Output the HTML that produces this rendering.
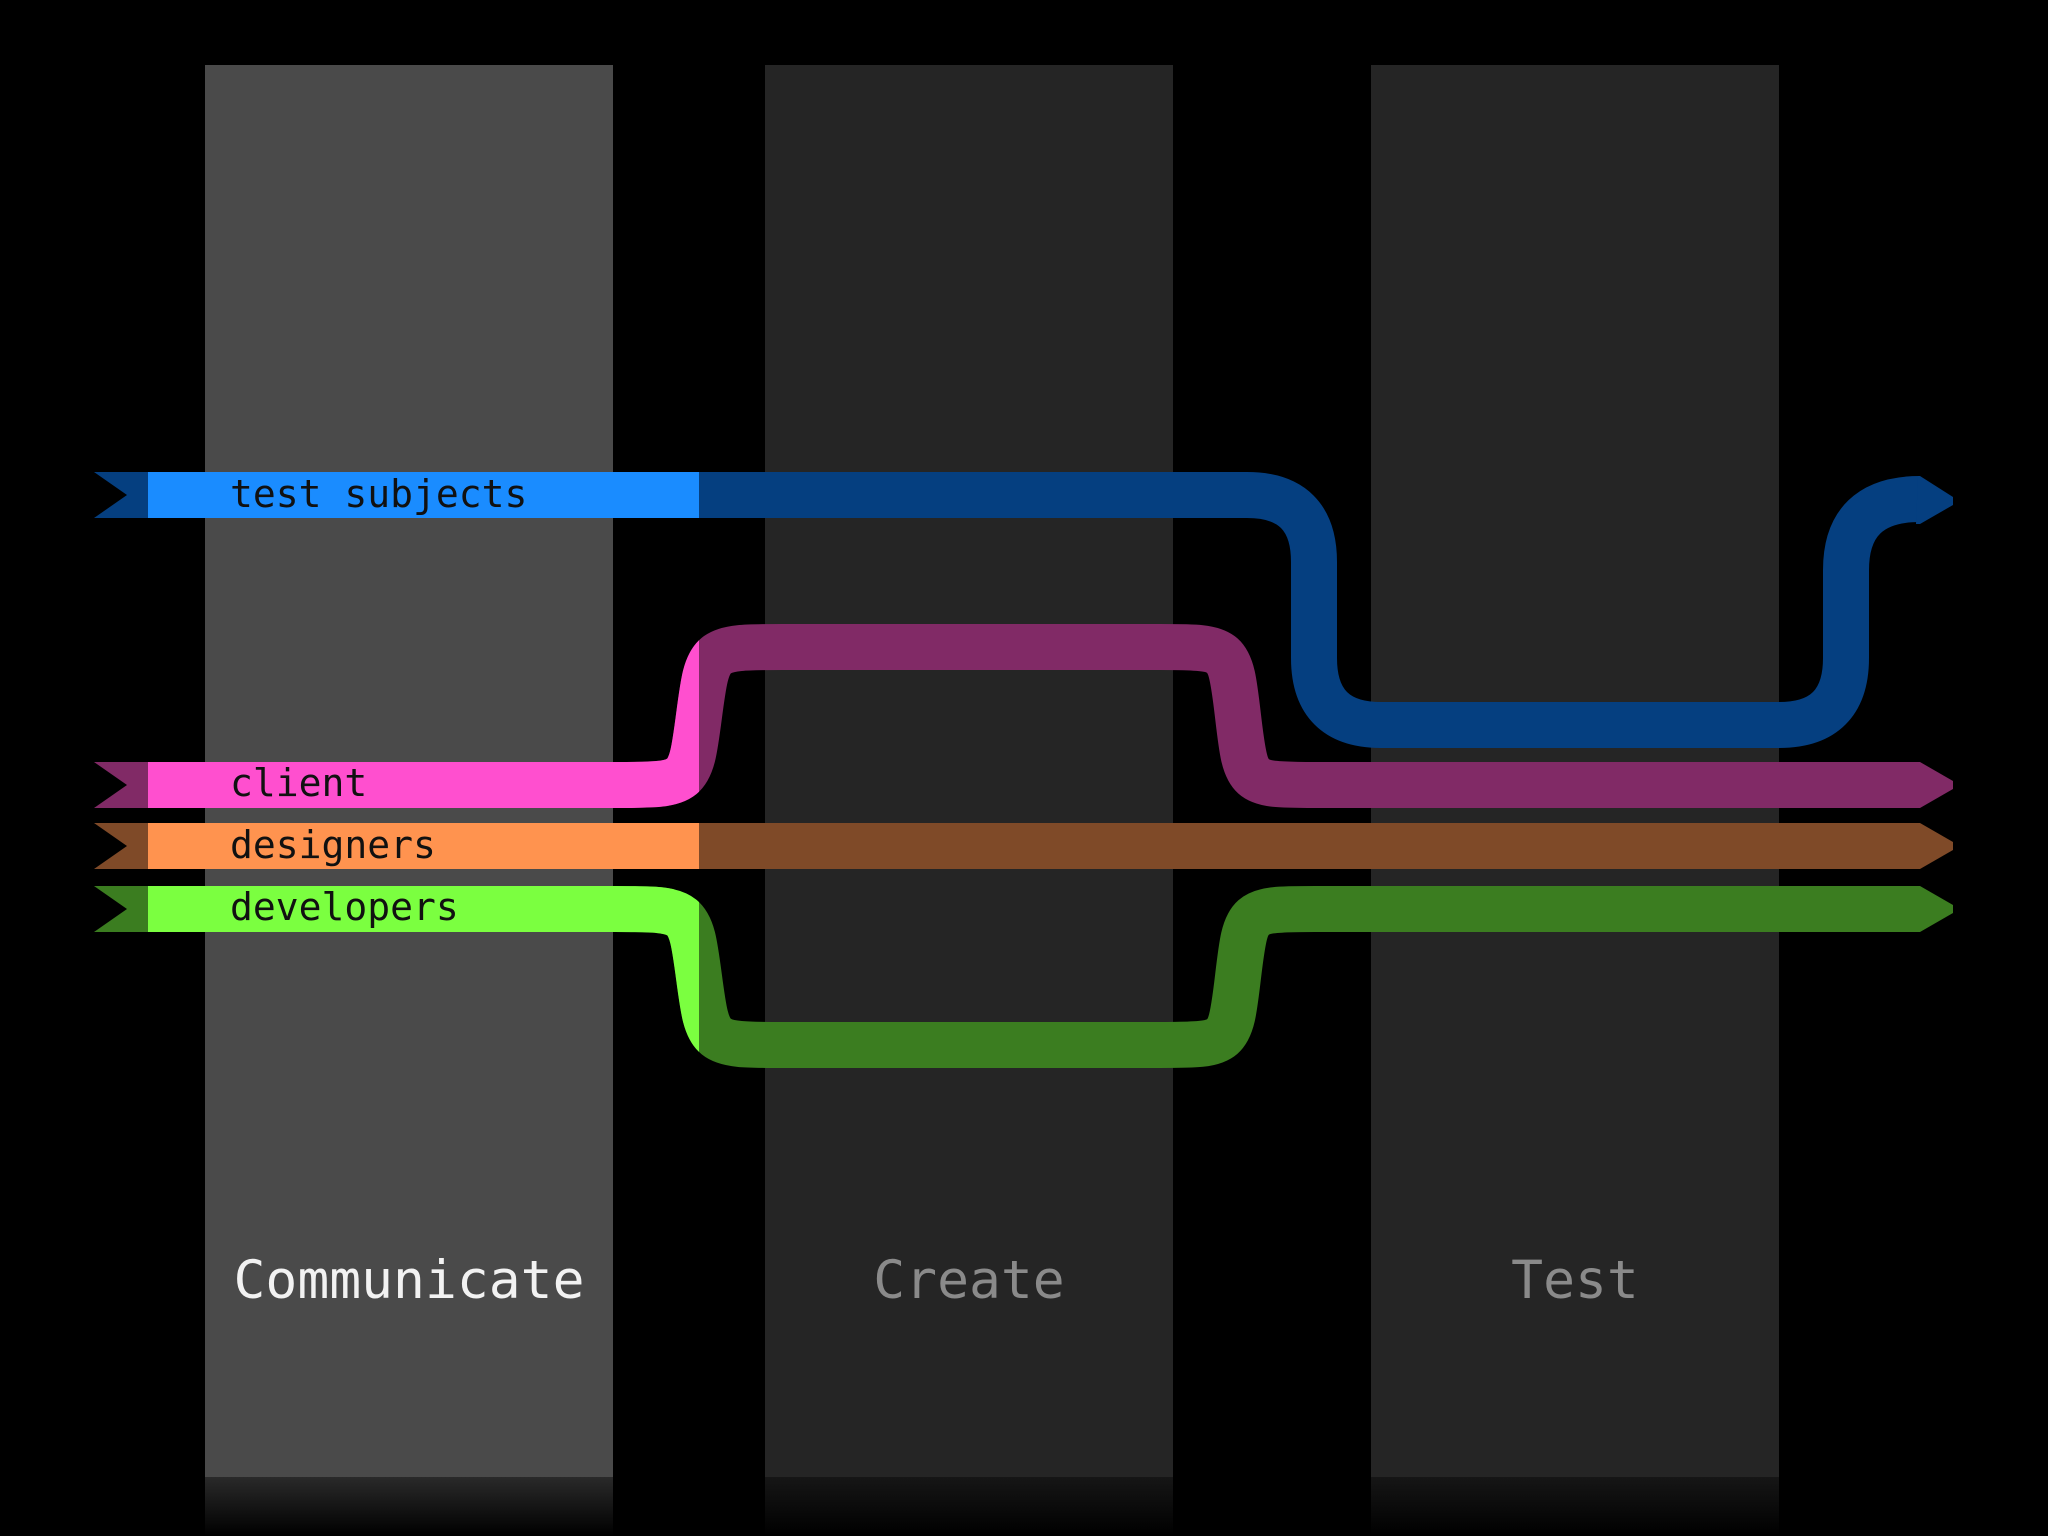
<!DOCTYPE html>
<html><head><meta charset="utf-8"><style>
html,body{margin:0;padding:0;background:#000;}
svg{display:block}
text{font-family:"DejaVu Sans Mono","Liberation Mono",monospace;}
</style></head><body>
<svg width="2048" height="1536" viewBox="0 0 2048 1536" xmlns="http://www.w3.org/2000/svg">
<defs>
<linearGradient id="r1" x1="0" y1="0" x2="0" y2="1"><stop offset="0" stop-color="#2a2a2a"/><stop offset="1" stop-color="#000"/></linearGradient>
<linearGradient id="r2" x1="0" y1="0" x2="0" y2="1"><stop offset="0" stop-color="#161616"/><stop offset="1" stop-color="#000"/></linearGradient>
<clipPath id="left"><rect x="0" y="0" width="699" height="1536"/></clipPath>
</defs>
<rect width="2048" height="1536" fill="#000"/>
<rect x="205" y="65" width="408" height="1412" fill="#4a4a4a"/>
<rect x="765" y="65" width="408" height="1412" fill="#252525"/>
<rect x="1371" y="65" width="408" height="1412" fill="#252525"/>
<rect x="205" y="1477" width="408" height="59" fill="url(#r1)"/>
<rect x="765" y="1477" width="408" height="59" fill="url(#r2)"/>
<rect x="1371" y="1477" width="408" height="59" fill="url(#r2)"/>

<g fill="none" stroke-width="46" stroke-linejoin="round">
<!-- blue -->
<path d="M148,495 H1247 Q1314,495 1314,562 V658 Q1314,725 1381,725 H1779 Q1846,725 1846,658 V570 Q1846,499 1920,499" stroke="#053f80"/>
<!-- client -->
<path d="M148,785 H615 C690,785 690,785 699,716 C708,647 708,647 783,647 H1160 C1230,647 1230,647 1238,716 C1246,785 1246,785 1315,785 H1920" stroke="#812a66"/>
<path d="M148,785 H615 C690,785 690,785 699,716 C708,647 708,647 783,647" stroke="#ff4fcf" clip-path="url(#left)"/>
<!-- designers -->
<path d="M148,846 H1920" stroke="#7f4a28"/>
<path d="M148,846 H699" stroke="#ff934f"/>
<!-- developers -->
<path d="M148,909 H615 C690,909 690,909 699,977 C708,1045 708,1045 783,1045 H1160 C1230,1045 1230,1045 1238,977 C1246,909 1246,909 1315,909 H1920" stroke="#3b7d20"/>
<path d="M148,909 H615 C690,909 690,909 699,977 C708,1045 708,1045 783,1045" stroke="#7bff40" clip-path="url(#left)"/>
</g>
<rect x="148" y="472" width="551" height="46" fill="#1a8cff"/>

<!-- left flags -->
<polygon points="94,472 148,472 148,518 94,518 127,495" fill="#053f80"/>
<polygon points="94,762 148,762 148,808 94,808 127,785" fill="#812a66"/>
<polygon points="94,823 148,823 148,869 94,869 127,846" fill="#7f4a28"/>
<polygon points="94,886 148,886 148,932 94,932 127,909" fill="#3b7d20"/>

<!-- right arrowheads -->
<polygon points="1918,476 1920,476 1953,497 1953,505 1920,524 1916,524" fill="#053f80"/>
<polygon points="1918,762 1920,762 1953,781 1953,789 1920,808 1918,808" fill="#812a66"/>
<polygon points="1918,823 1920,823 1953,842 1953,850 1920,869 1918,869" fill="#7f4a28"/>
<polygon points="1918,886 1920,886 1953,905 1953,913 1920,932 1918,932" fill="#3b7d20"/>

<g font-size="38" fill="#111">
<text x="230" y="507">test subjects</text>
<text x="230" y="796">client</text>
<text x="230" y="858">designers</text>
<text x="230" y="920">developers</text>
</g>
<g font-size="53">
<text x="409" y="1298" fill="#f2f2f2" text-anchor="middle">Communicate</text>
<text x="969" y="1298" fill="#8a8a8a" text-anchor="middle">Create</text>
<text x="1575" y="1298" fill="#8a8a8a" text-anchor="middle">Test</text>
</g>
</svg>
</body></html>
